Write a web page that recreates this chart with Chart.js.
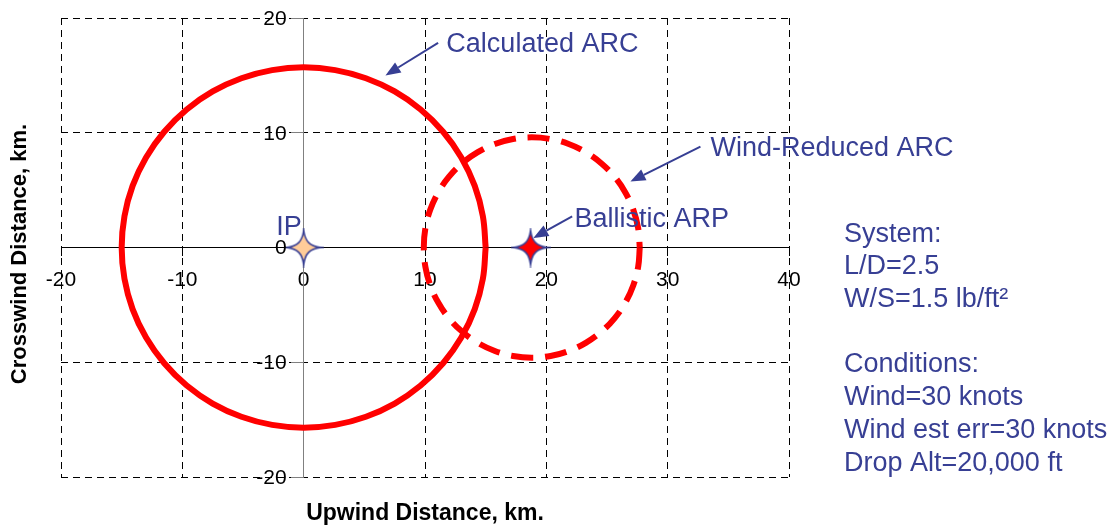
<!DOCTYPE html>
<html>
<head>
<meta charset="utf-8">
<title>ARC chart</title>
<script src="https://cdn.jsdelivr.net/npm/chart.js@4.4.1/dist/chart.umd.min.js"></script>
<style>
    body { margin: 0; background: #fff; }
    #wrap { width: 1112px; height: 529px; position: relative; }
</style>
</head>
<body>
<div id="wrap"><canvas id="arcChart" width="1112" height="529"></canvas></div>
<script>
// Axis ticks
const xTicks = [-20, -10, 0, 10, 20, 30, 40];
const yTicks = [-20, -10, 0, 10, 20];

// Calculated ARC (solid circle round the IP), km
const calcArcX = [15, 14.77, 14.10, 12.99, 11.49, 9.64, 7.5, 5.13, 2.60, 0, -2.60, -5.13, -7.5, -9.64, -11.49, -12.99, -14.10, -14.77,
    -15, -14.77, -14.10, -12.99, -11.49, -9.64, -7.5, -5.13, -2.60, 0, 2.60, 5.13, 7.5, 9.64, 11.49, 12.99, 14.10, 14.77, 15];
const calcArcY = [0, 2.73, 5.37, 7.85, 10.09, 12.03, 13.60, 14.75, 15.46, 15.7, 15.46, 14.75, 13.60, 12.03, 10.09, 7.85, 5.37, 2.73,
    0, -2.73, -5.37, -7.85, -10.09, -12.03, -13.60, -14.75, -15.46, -15.7, -15.46, -14.75, -13.60, -12.03, -10.09, -7.85, -5.37, -2.73, 0];

// Wind-Reduced ARC (dashed circle round the ballistic ARP), km
const windArcX = [27.70, 27.57, 27.17, 26.51, 25.62, 24.52, 23.25, 21.84, 20.35, 18.80, 17.25, 15.76, 14.35, 13.08, 11.98, 11.09, 10.43, 10.03,
    9.90, 10.03, 10.43, 11.09, 11.98, 13.08, 14.35, 15.76, 17.25, 18.80, 20.35, 21.84, 23.25, 24.52, 25.62, 26.51, 27.17, 27.57, 27.70];
const windArcY = [0, -1.67, -3.28, -4.80, -6.17, -7.35, -8.31, -9.02, -9.45, -9.60, -9.45, -9.02, -8.31, -7.35, -6.17, -4.80, -3.28, -1.67,
    0, 1.67, 3.28, 4.80, 6.17, 7.35, 8.31, 9.02, 9.45, 9.60, 9.45, 9.02, 8.31, 7.35, 6.17, 4.80, 3.28, 1.67, 0];

// Impact point and ballistic ARP
const ipX = [0];
const ipY = [0];
const arpX = [18.7];
const arpY = [0];

// Side notes
const systemLines = ['System:', 'L/D=2.5', 'W/S=1.5 lb/ft\u00B2', '', 'Conditions:', 'Wind=30 knots', 'Wind est err=30 knots', 'Drop Alt=20,000 ft'];

// Callouts, anchored in km
const callouts = [
    { text: 'Calculated ARC', tx: 11.76, ty: 17.89, from: [11.08, 17.83], to: [6.74, 15.0] },
    { text: 'Wind-Reduced ARC', tx: 33.53, ty: 8.79, from: [32.70, 8.79], to: [26.93, 5.75] },
    { text: 'Ballistic ARP', tx: 22.32, ty: 2.63, from: [22.13, 2.72], to: [18.93, 0.83] },
    { text: 'IP', tx: -2.25, ty: 1.93 }
];

const NAVY = '#373f94';
const FONT = '"Liberation Sans", Arial, sans-serif';

function toPoints(xs, ys) {
    return xs.map((x, i) => ({ x: x, y: ys[i] }));
}

// 4-point star used as marker
function makeStar(fill) {
    const c = document.createElement('canvas');
    c.width = 40;
    c.height = 40;
    const g = c.getContext('2d');
    const R = 17;
    g.translate(20, 20);
    g.beginPath();
    g.moveTo(0, -R);
    g.bezierCurveTo(1.5, -6, 6, -1.5, R, 0);
    g.bezierCurveTo(6, 1.5, 1.5, 6, 0, R);
    g.bezierCurveTo(-1.5, 6, -6, 1.5, -R, 0);
    g.bezierCurveTo(-6, -1.5, -1.5, -6, 0, -R);
    g.closePath();
    g.fillStyle = fill;
    g.fill();
    g.lineWidth = 1.6;
    g.strokeStyle = NAVY;
    g.stroke();
    return c;
}

function drawArrow(ctx, x1, y1, x2, y2) {
    const ang = Math.atan2(y2 - y1, x2 - x1);
    const len = 15, half = 6;
    const bx = x2 - len * Math.cos(ang), by = y2 - len * Math.sin(ang);
    ctx.beginPath();
    ctx.moveTo(x1, y1);
    ctx.lineTo(bx, by);
    ctx.lineWidth = 2;
    ctx.strokeStyle = NAVY;
    ctx.stroke();
    ctx.beginPath();
    ctx.moveTo(x2, y2);
    ctx.lineTo(bx + half * Math.sin(ang), by - half * Math.cos(ang));
    ctx.lineTo(bx - half * Math.sin(ang), by + half * Math.cos(ang));
    ctx.closePath();
    ctx.fillStyle = NAVY;
    ctx.fill();
}

// Y tick labels sit just left of the vertical axis (x = 0)
const yLabelPlugin = {
    id: 'yLabels',
    afterDatasetsDraw(chart) {
        const ctx = chart.ctx;
        const xs = chart.scales.x, ys = chart.scales.y;
        const axisX = xs.getPixelForValue(0);
        ctx.save();
        ctx.font = '21px ' + FONT;
        ctx.fillStyle = '#000';
        ctx.textAlign = 'right';
        ctx.textBaseline = 'middle';
        ys.ticks.forEach(t => {
            ctx.fillText(String(t.value), axisX - 17, ys.getPixelForValue(t.value) + 1);
        });
        ctx.restore();
    }
};

// Text, arrows and axis titles
const notesPlugin = {
    id: 'notes',
    afterDraw(chart) {
        const ctx = chart.ctx;
        const xs = chart.scales.x, ys = chart.scales.y;
        const area = chart.chartArea;
        ctx.save();

        ctx.font = '27px ' + FONT;
        ctx.textAlign = 'left';
        ctx.textBaseline = 'alphabetic';
        callouts.forEach(c => {
            if (c.from) {
                drawArrow(ctx, xs.getPixelForValue(c.from[0]), ys.getPixelForValue(c.from[1]),
                    xs.getPixelForValue(c.to[0]), ys.getPixelForValue(c.to[1]));
            }
            ctx.fillStyle = NAVY;
            ctx.fillText(c.text, xs.getPixelForValue(c.tx), ys.getPixelForValue(c.ty) + 9.6);
        });

        // side block
        ctx.fillStyle = NAVY;
        systemLines.forEach((line, i) => {
            ctx.fillText(line, area.right + 55, 232 + 9.6 + i * 32.7);
        });

        // axis titles
        ctx.fillStyle = '#000';
        ctx.textAlign = 'center';
        ctx.textBaseline = 'middle';
        ctx.font = 'bold 23px ' + FONT;
        ctx.fillText('Upwind Distance, km.', (area.left + area.right) / 2, 514);
        ctx.font = 'bold 22px ' + FONT;
        ctx.translate(20, 254);
        ctx.rotate(-Math.PI / 2);
        ctx.fillText('Crosswind Distance, km.', 0, 0);
        ctx.restore();
    }
};

const gridColor = ctx => (ctx.tick && ctx.tick.value === 0 ? 'rgba(0,0,0,0)' : '#000');

function initChart() {
    Chart.defaults.font.family = FONT;
    const ctx = document.getElementById('arcChart').getContext('2d');

    new Chart(ctx, {
        type: 'scatter',
        data: {
            datasets: [
                {
                    label: 'IP',
                    data: toPoints(ipX, ipY),
                    pointStyle: makeStar('#ffcc99'),
                    pointRadius: 17
                },
                {
                    label: 'Ballistic ARP',
                    data: toPoints(arpX, arpY),
                    pointStyle: makeStar('#ff0000'),
                    pointRadius: 17
                },
                {
                    label: 'Wind-Reduced ARC',
                    data: toPoints(windArcX, windArcY),
                    showLine: true,
                    borderColor: '#ff0000',
                    borderWidth: 6,
                    borderDash: [22, 12],
                    pointRadius: 0,
                    tension: 0.4
                },
                {
                    label: 'Calculated ARC',
                    data: toPoints(calcArcX, calcArcY),
                    showLine: true,
                    borderColor: '#ff0000',
                    borderWidth: 6,
                    pointRadius: 0,
                    tension: 0.4
                }
            ]
        },
        options: {
            responsive: false,
            animation: false,
            layout: { padding: { left: 61, top: 16, right: 323, bottom: 52 } },
            plugins: {
                legend: { display: false },
                tooltip: { enabled: false }
            },
            scales: {
                x: {
                    type: 'linear',
                    position: { y: 0 },
                    min: xTicks[0],
                    max: xTicks[xTicks.length - 1],
                    afterBuildTicks: s => { s.ticks = xTicks.map(v => ({ value: v })); },
                    afterFit: s => { s.height = 0; },
                    grid: {
                        color: gridColor,
                        lineWidth: 1,
                        tickLength: 8,
                        tickColor: '#000',
                        tickBorderDash: []
                    },
                    border: { display: true, color: '#000', width: 1, dash: [7, 5] },
                    ticks: { color: '#000', font: { size: 21 }, padding: 12, maxRotation: 0, autoSkip: false }
                },
                y: {
                    type: 'linear',
                    position: { x: 0 },
                    min: yTicks[0],
                    max: yTicks[yTicks.length - 1],
                    afterBuildTicks: s => { s.ticks = yTicks.map(v => ({ value: v })); },
                    afterFit: s => { s.width = 0; },
                    grid: {
                        color: gridColor,
                        lineWidth: 1,
                        tickLength: 12,
                        tickColor: '#808080',
                        tickBorderDash: []
                    },
                    border: { display: true, color: '#808080', width: 1, dash: [7, 5] },
                    ticks: { display: false, autoSkip: false }
                }
            }
        },
        plugins: [yLabelPlugin, notesPlugin]
    });
}

document.addEventListener('DOMContentLoaded', initChart);
</script>
</body>
</html>
